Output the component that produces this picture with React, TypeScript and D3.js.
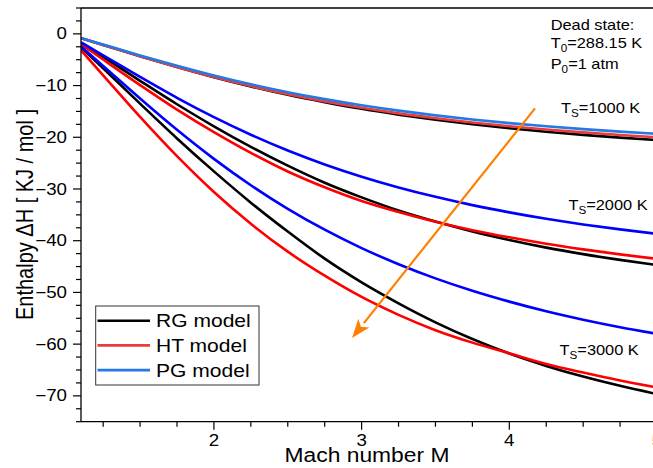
import React from "react";
import * as d3 from "d3";

// ---- data ----
const MACH = [1.1, 1.25, 1.5, 1.75, 2, 2.25, 2.5, 2.75, 3, 3.25, 3.5, 3.75, 4, 4.25, 4.5, 4.75, 5];

const RG_1000 = [-0.85, -2.14, -4.32, -6.41, -8.38, -10.17, -11.79, -13.21, -14.5, -15.62, -16.61, -17.49, -18.26, -18.93, -19.53, -20.06, -20.53];
const HT_1000 = [-0.85, -2.14, -4.32, -6.4, -8.34, -10.1, -11.67, -13.06, -14.29, -15.37, -16.31, -17.14, -17.86, -18.51, -19.06, -19.57, -20.01];
const PG_1000 = [-0.82, -2.07, -4.17, -6.18, -8.06, -9.76, -11.28, -12.62, -13.81, -14.85, -15.76, -16.56, -17.26, -17.88, -18.42, -18.91, -19.33];

const RG_2000 = [-1.77, -4.47, -9.08, -13.61, -17.88, -21.85, -25.49, -28.79, -31.62, -34.16, -36.31, -38.22, -39.87, -41.34, -42.6, -43.71, -44.7];
const HT_2000 = [-1.97, -4.97, -9.91, -14.66, -19.01, -23.02, -26.62, -29.67, -32.32, -34.45, -36.34, -37.96, -39.35, -40.59, -41.68, -42.65, -43.5];
const PG_2000 = [-1.64, -4.14, -8.33, -12.37, -16.11, -19.51, -22.56, -25.25, -27.62, -29.7, -31.52, -33.12, -34.52, -35.76, -36.85, -37.81, -38.67];

const RG_3000 = [-2.6, -6.64, -13.5, -20.22, -26.59, -32.64, -38.23, -43.47, -48.06, -52.11, -55.79, -59.02, -61.83, -64.21, -66.27, -68.06, -69.66];
const HT_3000 = [-3.16, -8.01, -16.06, -23.65, -30.58, -36.73, -42.12, -46.77, -50.88, -54.34, -57.3, -59.71, -61.77, -63.83, -65.5, -67.04, -68.38];
const PG_3000 = [-2.45, -6.21, -12.5, -18.55, -24.17, -29.27, -33.83, -37.87, -41.43, -44.54, -47.28, -49.68, -51.78, -53.64, -55.27, -56.72, -58.0];

const X_MAJOR = [2, 3, 4, 5];
const Y_MAJOR = [0, -10, -20, -30, -40, -50, -60, -70];
const LEGEND_LABELS = ["RG model", "HT model", "PG model"];
const TS_LABELS = [
  { t: "1000", m: 4.35, h: -15.4 },
  { t: "2000", m: 4.4, h: -34.0 },
  { t: "3000", m: 4.34, h: -62.1 },
];
const ARROW = { m0: 4.174, h0: -14.4, m1: 2.935, h1: -58.8 };

// ---- layout ----
const W = 653;
const H = 468;
const L = 81;
const R = 657;
const T = 8;
const B = 421.7;
const SX = 1.17; // horizontal stretch of the reference
const FONT = "'Liberation Sans', Arial, Helvetica, sans-serif";

const x = d3.scaleLinear().domain([1.1, 5]).range([L, R]);
const y = d3.scaleLinear().domain([5, -75]).range([T, B]);

const C_BLACK = "#000000";
const C_RED_L = "#ec3b3b";
const C_BLUE_L = "#2479e5";
const C_RED = "#ff0000";
const C_BLUE = "#0000ff";

const SERIES = [
  { v: RG_1000, c: C_BLACK },
  { v: HT_1000, c: C_RED_L },
  { v: PG_1000, c: C_BLUE_L },
  { v: RG_2000, c: C_BLACK },
  { v: HT_2000, c: C_RED },
  { v: PG_2000, c: C_BLUE },
  { v: RG_3000, c: C_BLACK },
  { v: HT_3000, c: C_RED },
  { v: PG_3000, c: C_BLUE },
];
const LEGEND_COLORS = [C_BLACK, C_RED_L, C_BLUE_L];

const line = d3
  .line<[number, number]>()
  .x((d) => x(d[0]))
  .y((d) => y(d[1]))
  .curve(d3.curveMonotoneX);

function SText({ tx, ty, size, anchor = "start", children, fill = "#000" }: any) {
  return (
    <text
      transform={`translate(${tx},${ty}) scale(${SX},1)`}
      fontSize={size}
      textAnchor={anchor}
      fontFamily={FONT}
      fill={fill}
    >
      {children}
    </text>
  );
}

export default function App() {
  const xMinor = d3.range(1.25, 5.001, 0.25).filter((v) => !X_MAJOR.some((m) => Math.abs(m - v) < 1e-6));
  const yMinor = d3.range(-75, 5.001, 2.5).filter((v) => !Y_MAJOR.some((m) => Math.abs(m - v) < 1e-6));

  const ax0 = x(ARROW.m0), ay0 = y(ARROW.h0), ax1 = x(ARROW.m1), ay1 = y(ARROW.h1);
  const ang = Math.atan2(ay1 - ay0, ax1 - ax0);
  const headL = 19, headW = 7;
  const bx = ax1 - headL * Math.cos(ang), by = ay1 - headL * Math.sin(ang);
  const px = -Math.sin(ang) * headW, py = Math.cos(ang) * headW;

  return (
    <svg width={W} height={H} style={{ position: "absolute", left: 0, top: 0, background: "#fff" }}>
      <defs>
        <clipPath id="plot">
          <rect x={L} y={T} width={R - L} height={B - T} />
        </clipPath>
      </defs>
      <rect x={0} y={0} width={W} height={H} fill="#fff" />

      {/* curves */}
      <g clipPath="url(#plot)">
        {SERIES.map((s, i) => (
          <path
            key={i}
            d={line(MACH.map((m, j) => [m, s.v[j]] as [number, number])) || ""}
            fill="none"
            stroke={s.c}
            strokeWidth={2.6}
          />
        ))}
      </g>

      {/* frame */}
      <line x1={L} y1={T} x2={R} y2={T} stroke="#000" strokeWidth={1.3} />
      <line x1={R} y1={T} x2={R} y2={B} stroke="#000" strokeWidth={1.3} />
      <line x1={L} y1={T} x2={L} y2={B} stroke="#000" strokeWidth={1.3} />
      <line x1={L} y1={B} x2={R} y2={B} stroke="#000" strokeWidth={1.3} />

      {/* x ticks */}
      {X_MAJOR.map((v) => (
        <g key={"xm" + v}>
          <line x1={x(v)} x2={x(v)} y1={B} y2={B + 8} stroke="#000" strokeWidth={1.2} />
          <SText tx={x(v)} ty={446} size={16} anchor="middle">{String(v)}</SText>
        </g>
      ))}
      {xMinor.map((v) => (
        <line key={"xn" + v} x1={x(v)} x2={x(v)} y1={B} y2={B + 5} stroke="#000" strokeWidth={1.2} />
      ))}

      {/* y ticks */}
      {Y_MAJOR.map((v) => (
        <g key={"ym" + v}>
          <line x1={L - 8} x2={L} y1={y(v)} y2={y(v)} stroke="#000" strokeWidth={1.2} />
          <SText tx={67} ty={y(v) + 5.6} size={16} anchor="end">
            {v < 0 ? "\u2212" + Math.abs(v) : String(v)}
          </SText>
        </g>
      ))}
      {yMinor.map((v) => (
        <line key={"yn" + v} x1={L - 5} x2={L} y1={y(v)} y2={y(v)} stroke="#000" strokeWidth={1.2} />
      ))}

      {/* axis titles */}
      <SText tx={367} ty={462} size={19.5} anchor="middle">Mach number M</SText>
      <text
        transform={`translate(33,214.5) scale(${SX},1) rotate(-90)`}
        fontSize={20}
        textAnchor="middle"
        fontFamily={FONT}
      >
        Enthalpy ΔH [ KJ / mol ]
      </text>

      {/* legend */}
      <rect x={95.7} y={306} width={163.3} height={79} fill="#fff" stroke="#333" strokeWidth={1} />
      {LEGEND_LABELS.map((lab, i) => {
        const ly = 320.7 + i * 24.7;
        return (
          <g key={lab}>
            <line x1={97.5} x2={150} y1={ly} y2={ly} stroke={LEGEND_COLORS[i]} strokeWidth={2.6} />
            <SText tx={156} ty={ly + 6.4} size={18}>{lab}</SText>
          </g>
        );
      })}

      {/* dead state note */}
      <SText tx={550.7} ty={30} size={14}>Dead state:</SText>
      <SText tx={550.7} ty={48.3} size={14}>
        T<tspan fontSize={10} dy={4}>0</tspan><tspan dy={-4}>=288.15 K</tspan>
      </SText>
      <SText tx={550.7} ty={69} size={14}>
        P<tspan fontSize={10} dy={4}>0</tspan><tspan dy={-4}>=1 atm</tspan>
      </SText>

      {/* Ts labels */}
      {TS_LABELS.map((d) => (
        <SText key={d.t} tx={x(d.m)} ty={y(d.h)} size={14}>
          T<tspan fontSize={10} dy={4}>S</tspan><tspan dy={-4}>={d.t} K</tspan>
        </SText>
      ))}

      {/* arrow */}
      <line x1={ax0} y1={ay0} x2={bx} y2={by} stroke="#ff8000" strokeWidth={2.2} />
      <path
        d={`M${ax1},${ay1} L${bx + px},${by + py} L${bx + 0.25 * (ax1 - bx)},${by + 0.25 * (ay1 - by)} L${bx - px},${by - py} Z`}
        fill="#ff8000"
      />
    </svg>
  );
}
